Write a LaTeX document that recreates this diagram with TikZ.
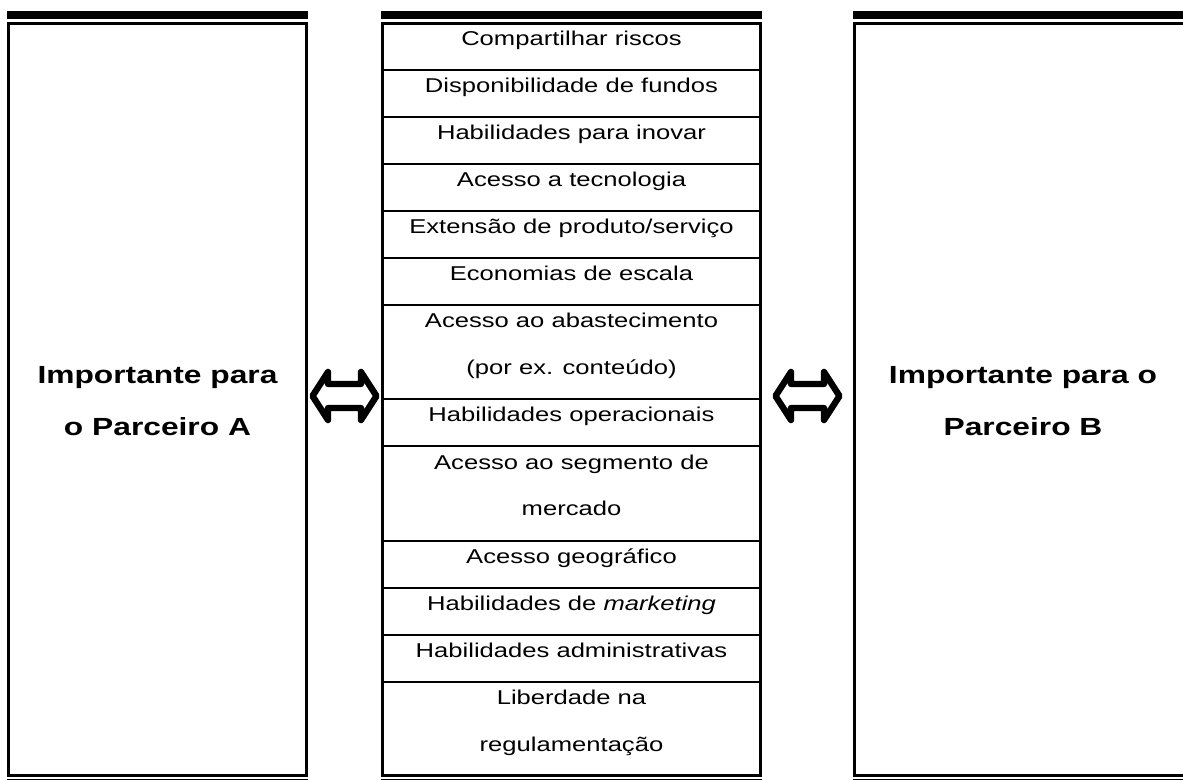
\documentclass[tikz,border=0pt]{standalone}
\usepackage{fontspec}
\setmainfont{Liberation Sans}[FakeStretch=1.28]

\begin{document}
\begin{tikzpicture}[x=0.5pt, y=-0.5pt,
  every node/.style={inner sep=0pt},
  item/.style={anchor=base, align=center, font=\fontsize{10}{23.5}\selectfont},
  partner/.style={anchor=base, align=center, font=\fontsize{12.4}{26.35}\selectfont\bfseries},
  frame/.style={line width=1.5pt},
  rule/.style={line width=1pt},
  twoway/.style={line width=3.2pt, line join=round, fill=white}]

\useasboundingbox (0,0) rectangle (1183,780);

% Partner A (full box)
\fill (7,11) rectangle (308,19); % thick top bar
\draw[frame] (8.5,23.5) rectangle (306.5,775.5);
\draw[line width=0.65pt] (7,779.3) -- (308,779.3);
\node[partner] (partnerA) at (157.5,436) {Importante para\\o Parceiro A}; % base = last line

% Reasons (middle box)
\fill (381,11) rectangle (762,19);
\draw[frame] (382.5,23.5) rectangle (760.5,775.5);
\draw[line width=0.65pt] (381,779.3) -- (762,779.3);
% row rules
\foreach \k in {1,2,3,4,5,6,8,9,11,12,13,14}
  \draw[rule] (382.5,{23.5+47*\k}) -- (760.5,{23.5+47*\k});

\node[item] (risk) at (571.5,46) {Compartilhar riscos};
\node[item] (funds) at (571.5,93) {Disponibilidade de fundos};
\node[item] (innov) at (571.5,140) {Habilidades para inovar};
\node[item] (tech) at (571.5,187) {Acesso a tecnologia};
\node[item] (ext) at (571.5,234) {Extensão de produto/serviço};
\node[item] (scale) at (571.5,281) {Economias de escala};
\node[item] (supply) at (571.5,375) {Acesso ao abastecimento\\(por ex. conteúdo)};
\node[item] (ops) at (571.5,422) {Habilidades operacionais};
\node[item] (segment) at (571.5,516) {Acesso ao segmento de\\mercado};
\node[item] (geo) at (571.5,563) {Acesso geográfico};
\node[item] (mkt) at (571.5,610) {Habilidades de \textit{marketing}};
\node[item] (admin) at (571.5,657) {Habilidades administrativas};
\node[item] (reg) at (571.5,751) {Liberdade na\\regulamentação};

% Partner B (open on the right)
\fill (853,11) rectangle (1183,19);
\draw[frame] (1183,23.5) -- (854.5,23.5) -- (854.5,775.5) -- (1183,775.5);
\draw[line width=0.65pt] (853,779.3) -- (1183,779.3);
\node[partner] (partnerB) at (1023,436) {Importante para o\\Parceiro B};

% two-way arrows
\draw[twoway, shift={(344.5,396)}] (-32,0) -- (-16.5,-24) -- (-16.5,-12) -- (16.5,-12)
  -- (16.5,-24) -- (32,0) -- (16.5,24) -- (16.5,12) -- (-16.5,12) -- (-16.5,24) -- cycle;
\draw[twoway, shift={(807.5,396)}] (-32,0) -- (-16.5,-24) -- (-16.5,-12) -- (16.5,-12)
  -- (16.5,-24) -- (32,0) -- (16.5,24) -- (16.5,12) -- (-16.5,12) -- (-16.5,24) -- cycle;

\end{tikzpicture}
\end{document}
